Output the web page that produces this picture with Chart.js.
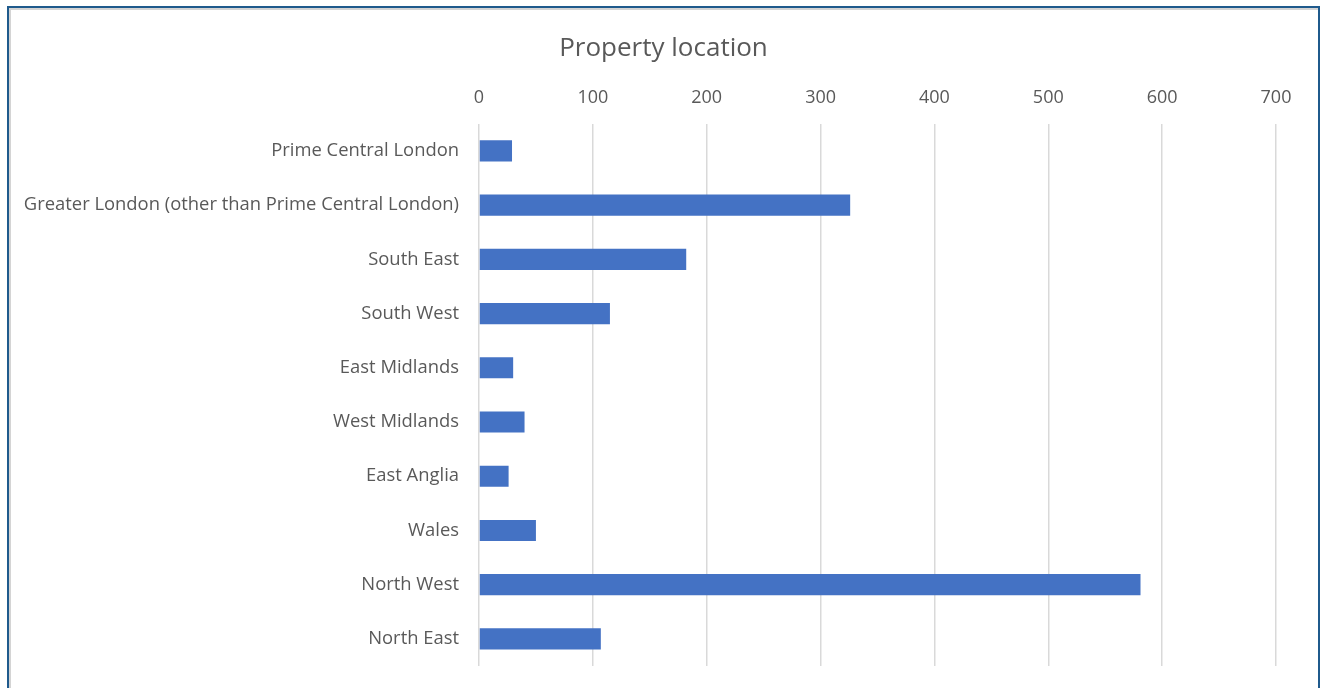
<!DOCTYPE html>
<html>
<head>
<meta charset="utf-8">
<script src="https://cdn.jsdelivr.net/npm/chart.js@4.4.1/dist/chart.umd.min.js"></script>
<style>
  html, body { margin: 0; padding: 0; background: #fff; overflow: hidden; }
  .frame {
    position: absolute; left: 7px; top: 6px; width: 1309px; height: 700px;
    border: 2px solid #1f5a8c; border-bottom: none;
    box-shadow: inset 2px 2px 0 #d4d4d4;
  }
  .box { position: absolute; left: 9px; top: 8px; width: 1309px; height: 680px; }
</style>
</head>
<body>
<div class="frame"></div>
<div class="box"><canvas id="myChart"></canvas></div>
<script>
const categories = [
  'Prime Central London',
  'Greater London (other than Prime Central London)',
  'South East',
  'South West',
  'East Midlands',
  'West Midlands',
  'East Anglia',
  'Wales',
  'North West',
  'North East'
];
const counts = [29, 326, 182, 115, 30, 40, 26, 50, 581, 107];
const xTicks = [0, 100, 200, 300, 400, 500, 600, 700];

const ctx = document.getElementById('myChart');
const myChart = new Chart(ctx, {
  type: 'bar',
  data: {
    labels: categories,
    datasets: [
      {
        data: counts,
        backgroundColor: '#4472c4',
        borderWidth: 0,
        categoryPercentage: 1,
        barPercentage: 0.39
      }
    ]
  },
  options: {
    indexAxis: 'y',
    responsive: true,
    maintainAspectRatio: false,
    animation: false,
    layout: { padding: { left: 0, right: 0, bottom: 22 } },
    plugins: {
      legend: { display: false },
      tooltip: { enabled: false },
      title: {
        display: true,
        text: 'Property location',
        color: '#595959',
        font: { family: 'Open Sans', size: 26, weight: 'normal' },
        padding: { top: 25, bottom: 8 }
      }
    },
    scales: {
      x: {
        position: 'top',
        min: xTicks[0],
        max: xTicks[xTicks.length - 1],
        afterBuildTicks: (scale) => { scale.ticks = xTicks.map(v => ({ value: v })); },
        grid: { color: '#d9d9d9', lineWidth: 1.5, drawTicks: false },
        border: { display: false },
        ticks: {
          color: '#595959',
          padding: 15,
          font: { family: 'Open Sans', size: 18 }
        }
      },
      y: {
        afterFit: (scale) => {
          scale.width = 470;
          scale.paddingTop = 0;
          scale.paddingBottom = 0;
        },
        grid: { display: false, drawTicks: false },
        border: { display: false },
        ticks: {
          color: '#595959',
          padding: 20,
          font: { family: 'Open Sans', size: 18.4 }
        }
      },
      // empty right-hand gutter so the title stays centred on the frame
      yRight: {
        type: 'category',
        position: 'right',
        labels: categories,
        afterFit: (scale) => {
          scale.width = 42;
          scale.paddingTop = 0;
          scale.paddingBottom = 0;
        },
        grid: { display: false, drawTicks: false },
        border: { display: false },
        ticks: { display: false }
      }
    }
  }
});
</script>
</body>
</html>
